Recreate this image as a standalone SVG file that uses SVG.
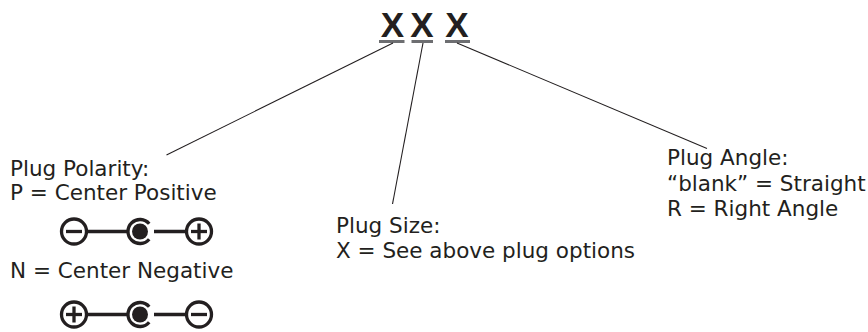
<svg xmlns="http://www.w3.org/2000/svg" width="868" height="332" viewBox="0 0 868 332">
<style>
.t{font-family:"DejaVu Sans",Verdana,sans-serif;font-size:21.5px;fill:#231f20}
.x{font-family:"Liberation Sans",Arial,sans-serif;font-size:35px;font-weight:bold;fill:#231f20;text-anchor:middle}
.ul{stroke:#6d6e71;stroke-width:3}
.ld{stroke:#231f20;stroke-width:1.1;fill:none}
.sym{stroke:#231f20;stroke-width:3.3;fill:none}
.dot{fill:#231f20}
</style>
<rect width="868" height="332" fill="#fff"/>
<g id="code">
<text class="x" x="392.5" y="37">X</text>
<text class="x" x="422" y="37">X</text>
<text class="x" x="457" y="37">X</text>
<line class="ul" x1="379" y1="41.5" x2="404.5" y2="41.5"/>
<line class="ul" x1="411.5" y1="41.5" x2="433" y2="41.5"/>
<line class="ul" x1="445" y1="41.5" x2="470" y2="41.5"/>
</g>
<g id="connectors">
<line class="ld" x1="393" y1="43" x2="166.5" y2="155"/>
<line class="ld" x1="423" y1="43" x2="392.5" y2="204"/>
<line class="ld" x1="457" y1="43" x2="707" y2="148.5"/>
</g>
<g id="polarity">
<text class="t" x="10" y="176">Plug Polarity:</text>
<text class="t" x="10" y="200">P = Center Positive</text>
<text class="t" x="10" y="277.5">N = Center Negative</text>
</g>
<g id="sym-positive">
<g class="sym">
<circle cx="74" cy="231.5" r="12.5"/>
<line x1="66" y1="231.5" x2="82" y2="231.5"/>
<line x1="86.5" y1="231.5" x2="127" y2="231.5"/>
<path d="M 149.2 223.8 A 12 12 0 1 0 149.2 239.2"/>
<line x1="154" y1="231.5" x2="186.5" y2="231.5"/>
<circle cx="199" cy="231.5" r="12.5"/>
<line x1="191" y1="231.5" x2="207" y2="231.5"/>
<line x1="199" y1="223.5" x2="199" y2="239.5"/>
</g>
<circle class="dot" cx="140" cy="231.5" r="8"/>
</g>
<g id="sym-negative">
<g class="sym">
<circle cx="74" cy="314.5" r="12.5"/>
<line x1="66" y1="314.5" x2="82" y2="314.5"/>
<line x1="74" y1="306.5" x2="74" y2="322.5"/>
<line x1="86.5" y1="314.5" x2="127" y2="314.5"/>
<path d="M 149.2 306.8 A 12 12 0 1 0 149.2 322.2"/>
<line x1="154" y1="314.5" x2="186.5" y2="314.5"/>
<circle cx="199" cy="314.5" r="12.5"/>
<line x1="191" y1="314.5" x2="207" y2="314.5"/>
</g>
<circle class="dot" cx="140" cy="314.5" r="8"/>
</g>
<g id="size">
<text class="t" x="336" y="233">Plug Size:</text>
<text class="t" x="336" y="258">X = See above plug options</text>
</g>
<g id="angle">
<text class="t" x="667" y="165">Plug Angle:</text>
<text class="t" x="667" y="190.5">“blank” = Straight</text>
<text class="t" x="667" y="215.5">R = Right Angle</text>
</g>
</svg>
